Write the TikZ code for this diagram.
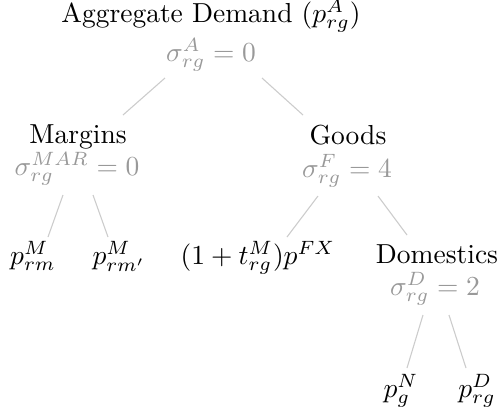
\documentclass[tikz,border=0pt]{standalone}
\usepackage{amsmath}
\definecolor{sigc}{gray}{0.6}
\definecolor{edgec}{gray}{0.8}
\tikzset{
  lbl/.style={anchor=base, inner sep=0pt, text=black},
  sig/.style={anchor=base, inner sep=0pt, text=sigc},
  edge/.style={draw=edgec, line width=0.4pt},
}
\begin{document}
\begin{tikzpicture}[x=0.3636pt, y=-0.3636pt]
\useasboundingbox (0,0) rectangle (498,418);
% labels
\node[lbl] (root) at (211,22) {Aggregate Demand ($p_{rg}^{A}$)};
\node[sig] (rootsig) at (211,61) {$\sigma_{rg}^{A}=0$};
\node[lbl] (marg) at (78,143) {Margins};
\node[sig] (margsig) at (77,175) {$\sigma_{rg}^{MAR}=0$};
\node[lbl] (goods) at (348,144) {Goods};
\node[sig] (goodssig) at (347,177) {$\sigma_{rg}^{F}=4$};
\node[lbl] (pm1) at (33,264) {$p_{rm}^{M}$};
\node[lbl] (pm2) at (119,264) {$p_{rm'}^{M}$};
\node[lbl] (imp) at (258,264) {$(1+t_{rg}^{M})p^{FX}$};
\node[lbl] (dom) at (437,263) {Domestics};
\node[sig] (domsig) at (435,295) {$\sigma_{rg}^{D}=2$};
\node[lbl] (pn) at (401,397) {$p_{g}^{N}$};
\node[lbl] (pd) at (477,397) {$p_{rg}^{D}$};
% edge end points
\coordinate (e1a) at (165,78); \coordinate (e1b) at (123,115);
\coordinate (e2a) at (262,78); \coordinate (e2b) at (303,115);
\coordinate (e3a) at (63,195); \coordinate (e3b) at (48,237);
\coordinate (e4a) at (93,195); \coordinate (e4b) at (108,237);
\coordinate (e5a) at (318,196); \coordinate (e5b) at (287,237);
\coordinate (e6a) at (378,196); \coordinate (e6b) at (407,235);
\coordinate (e7a) at (423,315); \coordinate (e7b) at (407,368);
\coordinate (e8a) at (449,315); \coordinate (e8b) at (466,368);
\draw[edge] (e1a) -- (e1b);
\draw[edge] (e2a) -- (e2b);
\draw[edge] (e3a) -- (e3b);
\draw[edge] (e4a) -- (e4b);
\draw[edge] (e5a) -- (e5b);
\draw[edge] (e6a) -- (e6b);
\draw[edge] (e7a) -- (e7b);
\draw[edge] (e8a) -- (e8b);
\end{tikzpicture}
\end{document}
